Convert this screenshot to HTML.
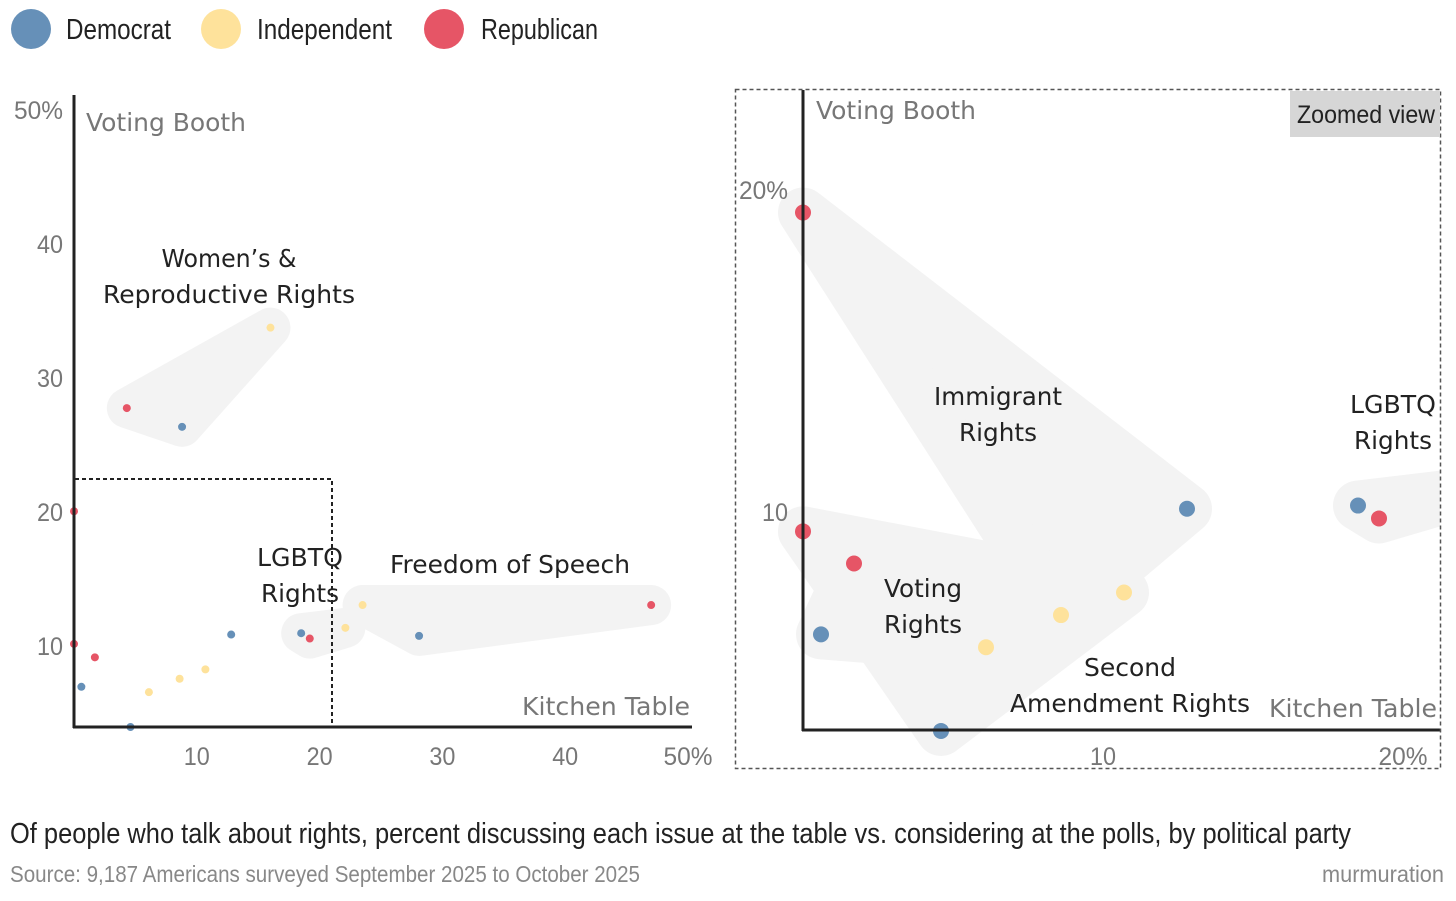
<!DOCTYPE html>
<html><head><meta charset="utf-8"><style>
html,body{margin:0;padding:0;background:#fff;}
svg{display:block;font-family:"Liberation Sans",sans-serif;}
.tick{fill:#777;font-size:25px;}
.lab{fill:#222;font-size:25px;font-family:"DejaVu Sans","Liberation Sans",sans-serif;}
.corner{fill:#777;font-size:25px;font-family:"DejaVu Sans","Liberation Sans",sans-serif;}
</style></head><body>
<svg id="chart" width="1456" height="901" viewBox="0 0 1456 901">
<defs><clipPath id="zc"><rect x="736" y="90" width="704" height="678"/></clipPath></defs>
<g>
<circle cx="31" cy="29" r="20" fill="#6690b8"/>
<text x="66" y="39" font-size="29" fill="#222" textLength="105" lengthAdjust="spacingAndGlyphs">Democrat</text>
<circle cx="221" cy="29" r="20" fill="#fee29b"/>
<text x="257" y="39" font-size="29" fill="#222" textLength="135" lengthAdjust="spacingAndGlyphs">Independent</text>
<circle cx="444" cy="29" r="20" fill="#e65566"/>
<text x="481" y="39" font-size="29" fill="#222" textLength="117" lengthAdjust="spacingAndGlyphs">Republican</text>
</g>
<g id="left"></g>
<g id="right"></g>
<text x="10" y="843" font-size="29" fill="#222" textLength="1341" lengthAdjust="spacingAndGlyphs">Of people who talk about rights, percent discussing each issue at the table vs. considering at the polls, by political party</text>
<text x="10" y="882" font-size="23" fill="#888" textLength="630" lengthAdjust="spacingAndGlyphs">Source: 9,187 Americans surveyed September 2025 to October 2025</text>
<text x="1322" y="882" font-size="23" fill="#888" textLength="122" lengthAdjust="spacingAndGlyphs">murmuration</text>
</svg>
<script>
const issues=["Immigrant Rights","Voting Rights","Second Amendment Rights","LGBTQ Rights","Freedom of Speech","Women's & Reproductive Rights"];
const demX=[12.8,0.6,4.6,18.5,28.1,8.8];
const demY=[10.1,6.2,3.2,10.2,10.0,25.6];
const indX=[8.6,6.1,10.7,22.1,23.5,16.0];
const indY=[6.8,5.8,7.5,10.6,12.3,33.0];
const repX=[0,1.7,0,19.2,47.0,4.3];
const repY=[19.3,8.4,9.4,9.8,12.3,27.0];
const leftXTicks=[10,20,30,40,50];
const leftYTicks=[10,20,30,40,50];
const rightXTicks=[10,20];
const rightYTicks=[10,20];
const colors={dem:"#6690b8",ind:"#fee29b",rep:"#e65566"};
const NS="http://www.w3.org/2000/svg";
function mk(tag,attrs,parent){const e=document.createElementNS(NS,tag);for(const k in attrs)e.setAttribute(k,attrs[k]);parent.appendChild(e);return e;}
const lx=v=>74+v*12.28, ly=v=>727-(v-3.2)*13.4;
const rx=v=>803+v*30, ry=v=>834-v*32.2;
const L=document.getElementById('left'), R=document.getElementById('right');
function blob(parent,i,sx,sy,w){
  const pts=[[demX[i],demY[i]],[indX[i],indY[i]],[repX[i],repY[i]]].map(p=>sx(p[0])+","+sy(p[1])).join(" ");
  const p=mk('polygon',{points:pts,fill:"#f3f3f3",stroke:"#f3f3f3","stroke-width":w,"stroke-linejoin":"round"},parent);
  
  
}
function dots(parent,sx,sy,r){
  for(let i=0;i<issues.length;i++){
    [["dem",demX,demY],["ind",indX,indY],["rep",repX,repY]].forEach(s=>{
      const c=mk('circle',{cx:sx(s[1][i]),cy:sy(s[2][i]),r:r,fill:colors[s[0]]},parent);
      
      
    });
  }
}
function txt(parent,x,y,s,cls,anchor,name,tl){const e=mk('text',{x:x,y:y,class:cls,"text-anchor":anchor||"start"},parent);if(tl){e.setAttribute('textLength',tl);e.setAttribute('lengthAdjust','spacingAndGlyphs');}e.textContent=s;return e;}
// left
[3,4,5].forEach(i=>blob(L,i,lx,ly,40));
dots(L,lx,ly,4);
mk('line',{x1:74,y1:95,x2:74,y2:728,stroke:"#222","stroke-width":3},L);
mk('line',{x1:73,y1:727,x2:692,y2:727,stroke:"#222","stroke-width":3},L);
mk('polyline',{points:"75,479 332,479 332,726",fill:"none",stroke:"#222","stroke-width":2,"stroke-dasharray":"4,3"},L);
leftXTicks.forEach(t=>{txt(L,t==50?688:lx(t),765,t==50?"50%":String(t),"tick",t==50?"middle":"middle","x-tick",t==50?49:26);});
leftYTicks.forEach(t=>{txt(L,63,ly(t)+19,t==50?"50%":String(t),"tick","end","y-tick",t==50?49:26);});
txt(L,86,131,"Voting Booth","corner","start","y-axis-title",160);
txt(L,690,715,"Kitchen Table","corner","end","x-axis-title",168);
txt(L,229,267,"Women’s &","lab","middle","label-womens",135);
txt(L,229,303,"Reproductive Rights","lab","middle","label-womens-2",252);
txt(L,300,566,"LGBTQ","lab","middle","label-lgbtq",86);
txt(L,300,602,"Rights","lab","middle","label-lgbtq-2",78);
txt(L,510,573,"Freedom of Speech","lab","middle","label-speech",240);
// right
const RC=mk('g',{"clip-path":"url(#zc)"},R);
[0,1,2,3].forEach(i=>blob(RC,i,rx,ry,50));
dots(RC,rx,ry,8);
mk('line',{x1:803,y1:90,x2:803,y2:731,stroke:"#222","stroke-width":3},R);
mk('line',{x1:802,y1:730,x2:1440,y2:730,stroke:"#222","stroke-width":3},R);
mk('rect',{x:735.5,y:89.5,width:705,height:679,fill:"none",stroke:"#555","stroke-width":1.5,"stroke-dasharray":"4,3"},R);
mk('rect',{x:1290,y:91,width:150,height:46,fill:"#d6d6d6"},R);
const zb=txt(R,1297,123,"Zoomed view","tick","start","zoomed-view-badge",138);
zb.style.fill="#222";
rightXTicks.forEach(t=>{txt(R,t==20?1403:rx(t),765,t==20?"20%":String(t),"tick","middle","zoom-x-tick",t==20?49:26);});
rightYTicks.forEach(t=>{txt(R,788,ry(t)+9,t==20?"20%":String(t),"tick","end","zoom-y-tick",t==20?49:26);});
txt(R,816,119,"Voting Booth","corner","start","zoom-y-axis-title",160);
txt(R,1437,717,"Kitchen Table","corner","end","zoom-x-axis-title",168);
txt(R,998,405,"Immigrant","lab","middle","label-immigrant",128);
txt(R,998,441,"Rights","lab","middle","label-immigrant-2",78);
txt(R,1393,413,"LGBTQ","lab","middle","zoom-label-lgbtq",86);
txt(R,1393,449,"Rights","lab","middle","zoom-label-lgbtq-2",78);
txt(R,923,597,"Voting","lab","middle","label-voting",78);
txt(R,923,633,"Rights","lab","middle","label-voting-2",78);
txt(R,1130,676,"Second","lab","middle","label-second",92);
txt(R,1130,712,"Amendment Rights","lab","middle","label-second-2",240);
</script>
</body></html>
